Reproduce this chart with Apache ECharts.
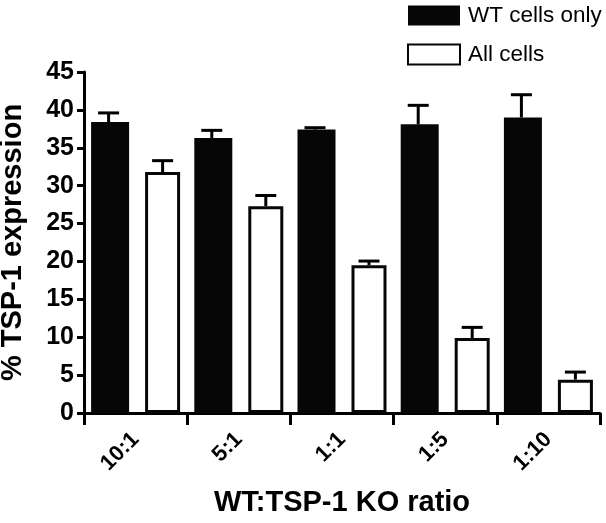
<!DOCTYPE html>
<html>
<head>
<meta charset="utf-8">
<script src="https://cdn.jsdelivr.net/npm/echarts@6/dist/echarts.min.js"></script>
<style>
html,body{margin:0;padding:0;background:#fff;}
#chart{width:606px;height:523px;}
</style>
</head>
<body>
<div id="chart"></div>
<script>
const categories = ['10:1', '5:1', '1:1', '1:5', '1:10'];
const wtValues = [38.4, 36.3, 37.4, 38.1, 39.0];
const wtErrors = [1.2, 1.0, 0.25, 2.5, 3.0];
const allValues = [31.8, 27.3, 19.5, 9.9, 4.4];
const allErrors = [1.5, 1.4, 0.55, 1.4, 1.0];
const yTicks = [0, 5, 10, 15, 20, 25, 30, 35, 40, 45];

const FONT = '"Liberation Sans", Arial, sans-serif';
const BAR_W = 38;
const GAP_PX = 16;
const OFFSET = (BAR_W + GAP_PX) / 2;

function errorSeries(values, errors, offset) {
  return {
    type: 'custom',
    z: 10,
    silent: true,
    data: values.map((v, i) => [i, v, errors[i]]),
    renderItem: function (params, api) {
      const idx = api.value(0);
      const val = api.value(1);
      const err = api.value(2);
      const base = api.coord([idx, val]);
      const top = api.coord([idx, val + err]);
      const x = base[0] + offset;
      return {
        type: 'group',
        children: [
          { type: 'line', shape: { x1: x, y1: base[1], x2: x, y2: top[1] },
            style: { stroke: '#000', lineWidth: 3 } },
          { type: 'line', shape: { x1: x - 10.5, y1: top[1], x2: x + 10.5, y2: top[1] },
            style: { stroke: '#000', lineWidth: 3 } }
        ]
      };
    }
  };
}

const chart = echarts.init(document.getElementById('chart'));
chart.setOption({
  animation: false,
  backgroundColor: '#fff',
  grid: { left: 84, right: 6, top: 72, bottom: 110, containLabel: false, outerBoundsMode: 'none' },
  legend: {
    orient: 'vertical',
    left: 407, top: 4,
    padding: 0,
    itemWidth: 52, itemHeight: 20, itemGap: 16,
    icon: 'rect',
    textStyle: { fontFamily: FONT, fontSize: 22.5, color: '#000', padding: [0, 0, 0, 3] },
    data: ['WT cells only', 'All cells']
  },
  xAxis: {
    type: 'category',
    data: categories,
    name: 'WT:TSP-1 KO ratio',
    nameLocation: 'middle',
    nameGap: 75,
    nameTextStyle: { fontFamily: FONT, fontSize: 29, fontWeight: 'bold', color: '#000' },
    axisLine: { lineStyle: { color: '#000', width: 3 } },
    axisTick: { show: true, length: 12, lineStyle: { color: '#000', width: 3 }, alignWithLabel: false },
    axisLabel: { rotate: 45, margin: 23, fontFamily: FONT, fontSize: 22, fontWeight: 'bold', color: '#000' }
  },
  yAxis: {
    type: 'value',
    min: 0, max: 45, interval: 5,
    name: '% TSP-1 expression',
    nameLocation: 'middle',
    nameGap: 57,
    nameTextStyle: { fontFamily: FONT, fontSize: 29, fontWeight: 'bold', color: '#000' },
    axisLine: { show: true, lineStyle: { color: '#000', width: 3 } },
    axisTick: { show: true, length: 7, lineStyle: { color: '#000', width: 3 } },
    splitLine: { show: false },
    axisLabel: {
      margin: 10, fontFamily: FONT, fontSize: 25, fontWeight: 'bold', color: '#000',
      formatter: function (v) { return yTicks.indexOf(v) >= 0 ? String(v) : ''; }
    }
  },
  series: [
    {
      name: 'WT cells only', type: 'bar', data: wtValues,
      barWidth: BAR_W, barGap: (GAP_PX / BAR_W * 100).toFixed(1) + '%',
      itemStyle: { color: '#060606' }
    },
    {
      name: 'All cells', type: 'bar', data: allValues,
      barWidth: BAR_W - 3,
      itemStyle: { color: '#fff', borderColor: '#060606', borderWidth: 3 }
    },
    errorSeries(wtValues, wtErrors, -OFFSET),
    errorSeries(allValues, allErrors, OFFSET)
  ]
});
</script>
</body>
</html>
